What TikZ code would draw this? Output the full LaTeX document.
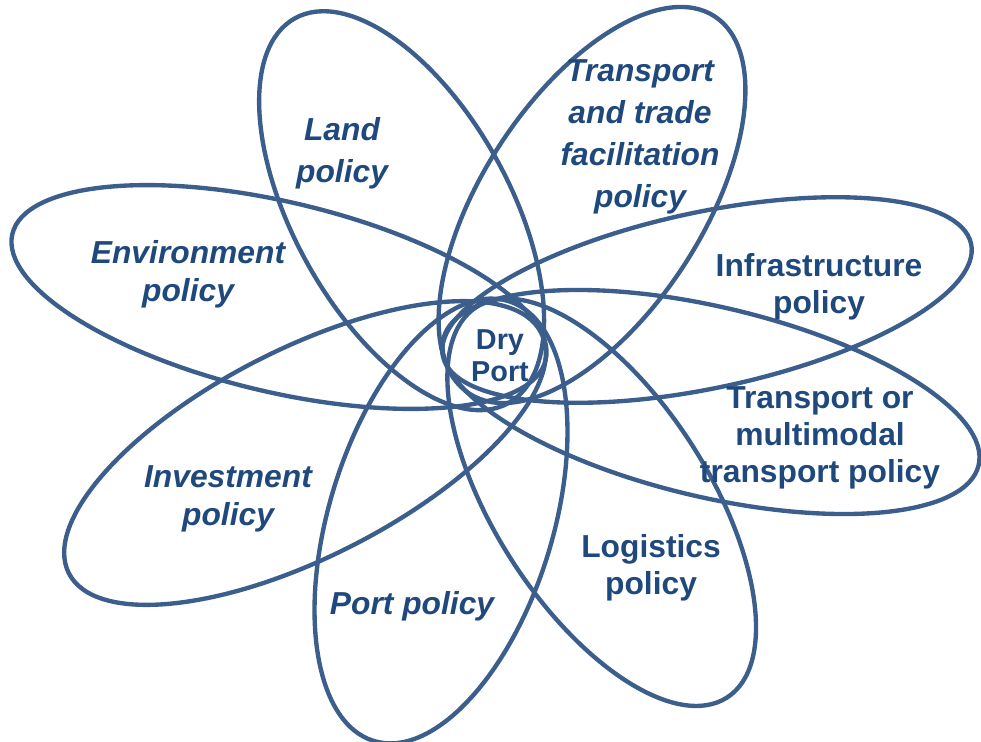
\documentclass[tikz,border=0pt]{standalone}
\usepackage{fontspec}
\setmainfont{Liberation Sans}
\definecolor{petalblue}{RGB}{59,94,140}
\definecolor{labelblue}{RGB}{31,73,125}
\tikzset{
    petal/.style={draw=petalblue, line width=3.1pt},
    policy/.style={text=labelblue, align=center, inner sep=0pt,
        font=\fontsize{22.6}{26.5}\selectfont\bfseries},
    policyit/.style={policy, font=\fontsize{22.6}{26.8}\selectfont\bfseries\itshape},
    policywide/.style={policy, font=\fontsize{22.6}{29.8}\selectfont\bfseries\itshape},
}
\begin{document}
\begin{tikzpicture}[x=0.025cm,y=0.025cm]
    \useasboundingbox (0,0) rectangle (981,-742);
    % petals: centre x / centre y / angle / long radius / short radius
    \foreach \cx/\cy/\ang/\ra/\rb in {
        401.6/210.7/119/220/108,   % land
        592/205/57/225/110,        % trade
        707/300/12/270/88,         % infrastructure
        711/402/-13.3/275/95,      % multimodal
        601.7/502.3/-57.3/232/107, % logistics
        441/521/-107/230/112,      % port
        305/453/-153/265/104,      % investment
        279/297/166.7/274/95}      % environment
        \draw[petal, rotate around={\ang:(\cx,-\cy)}] (\cx,-\cy) ellipse [x radius=\ra, y radius=\rb];
    % labels
    \node[policywide] (land) at (342,-153) {Land\\policy};
    \node[policywide] (trade) at (640,-137) {Transport\\and trade\\facilitation\\policy};
    \node[policy] (infra) at (819,-287) {Infrastructure\\policy};
    \node[policy] (multi) at (820,-438) {Transport or\\multimodal\\transport policy};
    \node[policy] (logi) at (651,-568) {Logistics\\policy};
    \node[policyit] (port) at (412,-606) {Port policy};
    \node[policyit] (invest) at (228,-499) {Investment\\policy};
    \node[policyit] (env) at (188,-274) {Environment\\policy};
    \node[policy, font=\fontsize{20.5}{23}\selectfont\bfseries] (dry) at (500,-356) {Dry\\Port};
\end{tikzpicture}
\end{document}
